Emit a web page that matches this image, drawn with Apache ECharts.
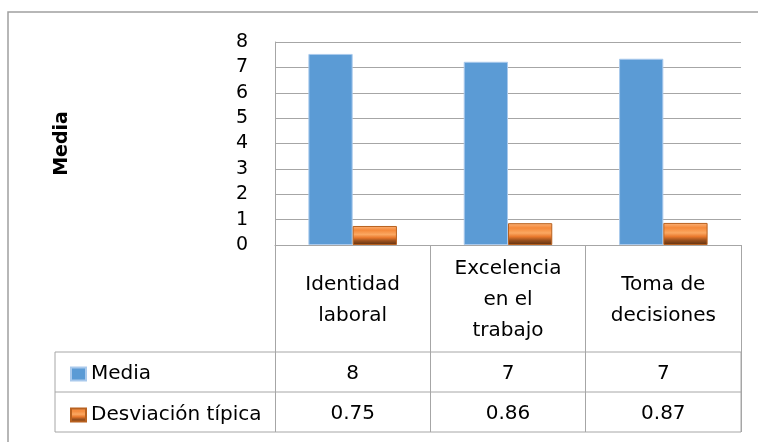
<!DOCTYPE html>
<html>
<head>
<meta charset="utf-8">
<script src="https://cdn.jsdelivr.net/npm/echarts@6/dist/echarts.min.js"></script>
<style>
  html, body { margin: 0; padding: 0; background: #fff; }
  #chart { width: 758px; height: 442px; }
</style>
</head>
<body>
<div id="chart"></div>
<script>
// ---- data ----
const categories = ['Identidad\nlaboral', 'Excelencia\nen el\ntrabajo', 'Toma de\ndecisiones'];
const seriesNames = ['Media', 'Desviación típica'];
const mediaValues = [7.53, 7.22, 7.34];
const sdValues = [0.75, 0.86, 0.87];
const yMin = 0, yMax = 8, yStep = 1;
const yAxisTitle = 'Media';

// ---- layout (styles/positions only) ----
const FONT = '"DejaVu Sans", sans-serif';
const GRID = { left: 275, top: 42, right: 17, bottom: 197 };
const W = 758, H = 442;
const axisY = H - GRID.bottom;          // 245
const plotRight = W - GRID.right;       // 741
const rowTop1 = 352, rowTop2 = 392, rowBottom = 432, tableLeft = 55;
const lineColor = '#a6a6a6';
const TABLE_FS = 20;

const chart = echarts.init(document.getElementById('chart'), null, { renderer: 'canvas' });

const orangeFill = new echarts.graphic.LinearGradient(0, 0, 0, 1, [
  { offset: 0, color: '#fbb37a' },
  { offset: 0.22, color: '#f5893a' },
  { offset: 0.45, color: '#fba862' },
  { offset: 0.62, color: '#e9782c' },
  { offset: 0.78, color: '#9c521f' },
  { offset: 1, color: '#5e2f0f' }
]);

const valueAxisBase = {
  type: 'category',
  data: categories,
  position: 'bottom',
  gridIndex: 0,
  axisLine: { show: false },
  axisTick: { show: false },
  splitLine: { show: false }
};

chart.setOption({
  animation: false,
  backgroundColor: '#ffffff',
  textStyle: { fontFamily: FONT },
  grid: Object.assign({ containLabel: false, outerBoundsMode: 'none' }, GRID),
  legend: {
    orient: 'vertical',
    left: 65,
    top: 359,
    itemWidth: 15,
    itemHeight: 13,
    itemGap: 21,
    icon: 'rect',
    data: seriesNames,
    textStyle: { fontSize: TABLE_FS, color: '#000', fontFamily: FONT, lineHeight: 20 }
  },
  xAxis: [
    {
      type: 'category',
      data: categories,
      position: 'bottom',
      boundaryGap: true,
      axisLine: { show: true, lineStyle: { color: lineColor, width: 1 } },
      axisTick: { show: true, length: rowBottom - axisY, lineStyle: { color: lineColor, width: 1 } },
      axisLabel: {
        margin: (rowTop1 - axisY) / 2 + 1.5,
        verticalAlign: 'middle',
        lineHeight: 31,
        fontSize: TABLE_FS,
        color: '#000',
        fontFamily: FONT,
        interval: 0
      }
    },
    Object.assign({}, valueAxisBase, {
      axisLabel: {
        interval: 0,
        margin: (rowTop1 + rowTop2) / 2 - axisY + 2,
        verticalAlign: 'middle',
        fontSize: TABLE_FS, color: '#000', fontFamily: FONT,
        formatter: function (v, i) { return String(Math.round(mediaValues[i])); }
      }
    }),
    Object.assign({}, valueAxisBase, {
      axisLabel: {
        interval: 0,
        margin: (rowTop2 + rowBottom) / 2 - axisY + 2,
        verticalAlign: 'middle',
        fontSize: TABLE_FS, color: '#000', fontFamily: FONT,
        formatter: function (v, i) { return sdValues[i].toFixed(2); }
      }
    })
  ],
  yAxis: {
    type: 'value',
    min: yMin,
    max: yMax,
    interval: yStep,
    name: yAxisTitle,
    nameLocation: 'middle',
    nameGap: 203,
    nameTextStyle: { fontSize: 19, fontWeight: 'bold', color: '#000', fontFamily: FONT },
    axisLine: { show: true, lineStyle: { color: lineColor, width: 1 } },
    axisTick: { show: false },
    axisLabel: { margin: 27, fontSize: 19, color: '#000', fontFamily: FONT, padding: [3, 0, 0, 0] },
    splitLine: { show: true, lineStyle: { color: lineColor, width: 1 } }
  },
  series: [
    {
      name: seriesNames[0],
      type: 'bar',
      xAxisIndex: 0,
      data: mediaValues,
      barGap: '0%',
      barCategoryGap: '43%',
      itemStyle: { color: '#5b9bd5', borderColor: '#a9c9ec', borderWidth: 1 }
    },
    {
      name: seriesNames[1],
      type: 'bar',
      xAxisIndex: 0,
      data: sdValues,
      barGap: '0%',
      barCategoryGap: '43%',
      itemStyle: { color: orangeFill, borderColor: '#b8611f', borderWidth: 1 }
    }
  ],
  graphic: [
    {
      type: 'polyline',
      shape: { points: [[8, 700], [8, 12], [1000, 12]] },
      style: { fill: 'none', stroke: '#a0a0a0', lineWidth: 1.5 },
      silent: true, z: 0
    },
    {
      type: 'rect',
      shape: { x: tableLeft, y: rowTop1, width: plotRight - tableLeft, height: rowBottom - rowTop1 },
      style: { fill: 'none', stroke: lineColor, lineWidth: 1 },
      silent: true, z: 1
    },
    {
      type: 'line',
      shape: { x1: tableLeft, y1: rowTop2, x2: plotRight, y2: rowTop2 },
      style: { stroke: lineColor, lineWidth: 1 },
      silent: true, z: 1
    }
  ]
});
</script>
</body>
</html>
